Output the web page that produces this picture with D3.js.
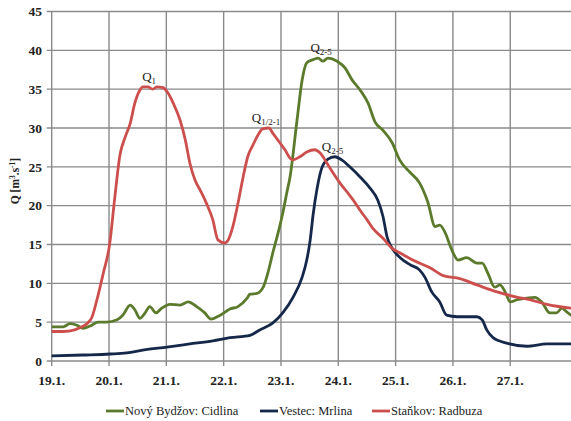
<!DOCTYPE html>
<html>
<head>
<meta charset="utf-8">
<script src="https://cdn.jsdelivr.net/npm/d3@7/dist/d3.min.js"></script>
<style>
  html, body { margin: 0; padding: 0; background: #fff; }
  svg { display: block; }
</style>
</head>
<body>
<svg id="chart" width="571" height="421"></svg>
<script>
// Day ticks (days after 19.1.)
const dayLabels = ["19.1.", "20.1.", "21.1.", "22.1.", "23.1.", "24.1.", "25.1.", "26.1.", "27.1."];
const yTicks = [0, 5, 10, 15, 20, 25, 30, 35, 40, 45];

// Nový Bydžov: Cidlina — time (days from 19.1.) and discharge [m3/s]
const cidlinaT = [0.00,0.20,0.32,0.44,0.55,0.67,0.81,0.96,1.14,1.24,1.37,1.45,1.54,1.63,1.71,1.82,1.92,2.06,2.24,2.38,2.53,2.67,2.78,2.94,3.11,3.25,3.41,3.46,3.58,3.69,3.77,3.86,3.95,4.03,4.10,4.16,4.28,4.37,4.45,4.56,4.65,4.73,4.82,4.98,5.12,5.24,5.38,5.52,5.64,5.78,5.94,6.07,6.25,6.42,6.56,6.69,6.77,6.86,6.98,7.09,7.24,7.42,7.51,7.61,7.73,7.82,7.91,8.00,8.12,8.29,8.43,8.55,8.69,8.81,8.90,8.99,9.06];
const cidlinaQ = [4.4,4.4,4.8,4.6,4.2,4.5,5.0,5.0,5.3,5.9,7.2,6.6,5.5,6.2,7.0,6.2,6.8,7.3,7.2,7.6,7.0,6.2,5.4,5.9,6.7,7.0,8.1,8.6,8.7,9.5,11.3,14.0,16.5,19.0,21.6,23.8,31.0,36.2,38.4,38.8,39.0,38.6,39.0,38.6,37.7,36.2,34.9,33.2,30.8,29.7,28.1,25.9,24.3,22.9,20.5,17.3,17.5,16.6,14.3,13.0,13.3,12.6,12.6,11.3,9.5,9.8,8.9,7.6,7.9,8.1,8.2,7.6,6.2,6.2,6.8,6.3,5.9];

// Vestec: Mrlina
const mrlinaT = [0.00,0.55,1.02,1.31,1.59,2.01,2.41,2.81,3.11,3.46,3.63,3.86,4.03,4.21,4.37,4.45,4.51,4.56,4.63,4.71,4.82,4.94,5.06,5.20,5.38,5.55,5.69,5.78,5.85,5.94,6.08,6.25,6.42,6.51,6.63,6.77,6.89,7.07,7.42,7.51,7.59,7.70,7.94,8.29,8.64,9.06];
const mrlinaQ = [0.65,0.77,0.9,1.05,1.4,1.8,2.2,2.6,3.0,3.3,4.0,4.9,6.2,8.2,10.8,13.0,15.6,18.8,22.2,24.8,26.0,26.3,25.9,25.0,23.7,22.3,20.7,18.6,16.0,14.5,13.3,12.4,11.7,10.8,8.9,7.6,5.9,5.7,5.7,5.3,4.0,3.0,2.3,1.9,2.2,2.2];

// Staňkov: Radbuza
const radbuzaT = [0.00,0.20,0.40,0.50,0.63,0.70,0.79,0.90,1.01,1.10,1.19,1.28,1.37,1.45,1.54,1.59,1.68,1.76,1.84,1.94,2.03,2.12,2.24,2.33,2.41,2.50,2.59,2.70,2.81,2.90,3.02,3.08,3.16,3.25,3.34,3.42,3.51,3.60,3.68,3.79,3.86,3.98,4.07,4.16,4.21,4.33,4.45,4.59,4.68,4.80,4.91,5.03,5.17,5.30,5.38,5.50,5.60,5.78,5.94,6.08,6.30,6.60,6.83,7.12,7.42,7.77,8.13,8.34,8.64,9.06];
const radbuzaQ = [3.8,3.8,4.0,4.3,4.9,5.6,7.9,11.3,15.0,21.0,26.5,28.8,30.6,33.2,34.9,35.3,35.3,35.0,35.3,35.2,34.5,33.2,31.0,28.5,25.5,23.3,22.0,20.3,18.2,15.6,15.2,15.6,17.3,20.3,23.7,26.3,27.8,29.1,29.9,30.0,29.3,28.1,27.2,26.1,25.9,26.3,26.9,27.2,26.8,25.5,24.2,22.9,21.6,20.3,19.4,18.2,17.1,15.8,14.5,13.9,13.0,12.0,11.0,10.6,9.8,8.9,8.2,7.9,7.3,6.8];

// Peak annotations: position (day, discharge) and subscript
const peakDays = [1.70, 3.74, 4.70, 4.90];
const peakVals = [35.3, 30.0, 39.0, 26.3];
const peakSubs = ["1", "1/2-1", "2-5", "2-5"];

const seriesNames = ["Nový Bydžov: Cidlina", "Vestec: Mrlina", "Staňkov: Radbuza"];
const seriesColors = ["#5b7a2c", "#16284a", "#cd4f4d"];

const series = [
  cidlinaT.map((t, i) => ({ t, q: cidlinaQ[i] })),
  mrlinaT.map((t, i) => ({ t, q: mrlinaQ[i] })),
  radbuzaT.map((t, i) => ({ t, q: radbuzaQ[i] }))
];

const serif = "Liberation Serif";
const svg = d3.select("#chart").attr("font-family", serif);
const plotL = 51.7, plotR = 571, plotT = 11.5, plotB = 361;

const x = d3.scaleLinear().domain([0, 9.06]).range([plotL, plotR]);
const y = d3.scaleLinear().domain([0, 45]).range([plotB, plotT]);

const gridColor = "#8a8a8a";

// Horizontal grid
svg.append("g").selectAll("line").data(yTicks).join("line")
  .attr("x1", plotL - 5).attr("x2", plotR)
  .attr("y1", d => y(d)).attr("y2", d => y(d))
  .attr("stroke", gridColor).attr("stroke-width", 1.4);

// Vertical grid
svg.append("g").selectAll("line").data(dayLabels).join("line")
  .attr("x1", (d, i) => x(i)).attr("x2", (d, i) => x(i))
  .attr("y1", plotT).attr("y2", plotB + 5)
  .attr("stroke", gridColor).attr("stroke-width", 1.4);

// Y tick labels
svg.append("g").selectAll("text").data(yTicks).join("text")
  .attr("x", 42).attr("y", d => y(d))
  .attr("dy", "0.35em")
  .attr("text-anchor", "end")
  .attr("font-family", serif)
  .attr("font-size", 13.5).attr("font-weight", "bold").attr("fill", "#222")
  .text(d => d);

// X tick labels
svg.append("g").selectAll("text").data(dayLabels).join("text")
  .attr("x", (d, i) => x(i)).attr("y", 385)
  .attr("text-anchor", "middle")
  .attr("font-family", serif)
  .attr("font-size", 13.5).attr("font-weight", "bold").attr("fill", "#222")
  .text(d => d);

// Y axis title
const yt = svg.append("text")
  .attr("transform", "translate(19,181) rotate(-90)")
  .attr("text-anchor", "middle")
  .attr("font-family", serif)
  .attr("font-size", 11.5).attr("font-weight", "bold").attr("fill", "#222");
yt.append("tspan").text("Q [m");
yt.append("tspan").attr("font-size", 7.5).attr("dy", -4).text("3");
yt.append("tspan").attr("dy", 4).text(".s");
yt.append("tspan").attr("font-size", 7.5).attr("dy", -4).text("-1");
yt.append("tspan").attr("dy", 4).text("]");

// Series lines
svg.append("clipPath").attr("id", "plot").append("rect")
  .attr("x", plotL).attr("y", 0).attr("width", plotR - plotL).attr("height", plotB + 2);

const line = d3.line().x(d => x(d.t)).y(d => y(d.q)).curve(d3.curveMonotoneX);
svg.append("g").attr("clip-path", "url(#plot)")
  .selectAll("path").data([0, 1, 2]).join("path")
  .attr("d", i => line(series[i]))
  .attr("fill", "none")
  .attr("stroke", i => seriesColors[i])
  .attr("stroke-width", 2.8)
  .attr("stroke-linejoin", "round")
  .attr("stroke-linecap", "round");

// Peak labels
const pk = svg.append("g").selectAll("text").data(peakDays).join("text")
  .attr("x", d => x(d)).attr("y", (d, i) => y(peakVals[i]) - 6)
  .attr("text-anchor", "middle")
  .attr("font-family", serif)
  .attr("font-size", 13).attr("fill", "#222");
pk.append("tspan").text("Q");
pk.append("tspan").attr("font-size", 9).attr("dy", 3).text((d, i) => peakSubs[i]);

// Legend
const legendX = [106, 260, 372];
const lg = svg.append("g").selectAll("g").data(seriesNames).join("g")
  .attr("transform", (d, i) => `translate(${legendX[i]},411)`);
lg.append("line").attr("x1", 0).attr("x2", 18).attr("y1", 0).attr("y2", 0)
  .attr("stroke", (d, i) => seriesColors[i]).attr("stroke-width", 2.8);
lg.append("text").attr("x", 19).attr("y", 0).attr("dy", "0.35em")
  .attr("font-family", serif)
  .attr("font-size", 12.5).attr("fill", "#222")
  .text(d => d);
</script>
</body>
</html>
